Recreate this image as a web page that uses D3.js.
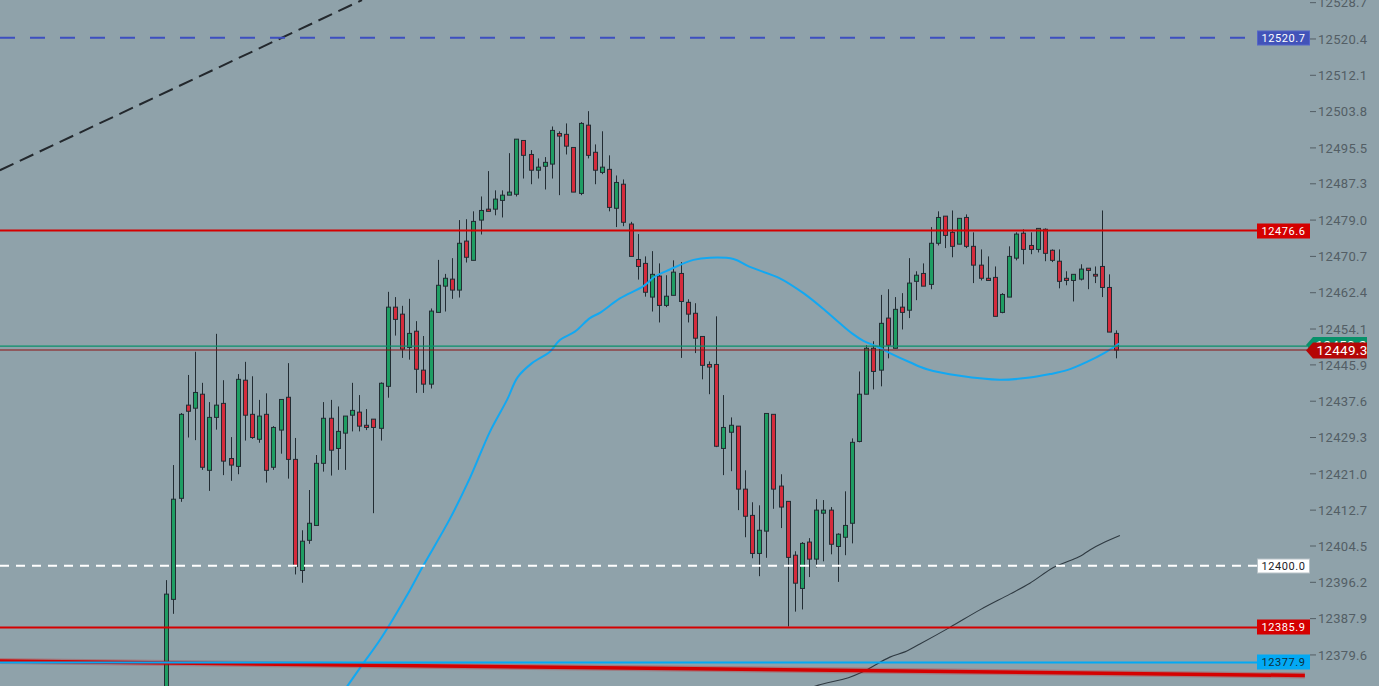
<!DOCTYPE html>
<html>
<head>
<meta charset="utf-8">
<script src="https://cdn.jsdelivr.net/npm/d3@7"></script>
<style>
  html, body { margin: 0; padding: 0; background: #8fa2aa; overflow: hidden; }
  svg { display: block; font-family: Roboto, "Noto Sans", sans-serif; }
  .tick-label { fill: #535e65; font-size: 13px; letter-spacing: 0.3px; }
  .box-label { font-size: 11px; letter-spacing: 0.6px; }
  .last-label { font-size: 13.5px; fill: #fff; letter-spacing: 0.3px; }
</style>
</head>
<body>
<div id="chart"></div>
<script>
// candle values, oldest first
const opens = [12369.3,12392.3,12415.4,12436.7,12436.0,12439.2,12421.8,12433.9,12437.1,12424.5,
  12422.7,12442.4,12434.6,12428.9,12434.6,12422.5,12431.0,12438.5,12424.3,12398.9,
  12405.8,12409.2,12423.4,12433.7,12426.8,12430.3,12434.4,12435.1,12432.1,12433.5,
  12431.4,12441.0,12459.1,12457.5,12449.9,12453.6,12444.7,12441.5,12457.9,12463.9,
  12465.5,12463.0,12474.2,12469.8,12479.0,12481.5,12481.5,12483.5,12484.7,12484.9,
  12497.2,12494.0,12490.4,12491.3,12491.8,12498.8,12498.6,12495.6,12485.1,12500.7,
  12494.5,12489.9,12490.6,12481.7,12487.2,12478.1,12470.0,12469.1,12461.4,12466.2,
  12459.5,12461.8,12466.8,12460.2,12457.7,12452.4,12446.0,12446.0,12426.8,12430.5,
  12431.9,12417.5,12411.5,12402.8,12407.9,12434.6,12418.2,12414.7,12402.4,12394.8,
  12405.4,12401.5,12412.0,12412.7,12404.4,12406.5,12409.7,12428.4,12439.2,12449.7,
  12444.7,12456.6,12449.7,12459.1,12458.4,12465.0,12466.8,12464.3,12473.7,12479.9,
  12476.2,12473.5,12479.6,12473.0,12468.7,12465.7,12465.9,12457.9,12461.4,12470.3,
  12476.0,12473.2,12472.3,12476.9,12472.1,12469.6,12465.7,12465.2,12465.5,12468.0,
  12466.6,12468.4,12463.6,12453.1];
const highs = [12396.7,12423.0,12434.9,12443.6,12448.9,12441.8,12437.4,12453.0,12442.4,12429.4,
  12443.8,12446.6,12443.3,12437.9,12439.4,12431.9,12438.0,12446.3,12429.2,12408.1,
  12417.3,12425.3,12437.4,12437.9,12436.4,12434.2,12441.8,12439.0,12435.8,12433.5,
  12441.9,12462.6,12461.4,12459.4,12461.0,12455.9,12452.5,12458.8,12469.9,12466.7,
  12470.3,12479.0,12479.2,12481.0,12484.4,12490.2,12485.8,12485.8,12494.3,12497.5,
  12497.2,12495.0,12493.1,12493.4,12500.4,12499.3,12501.1,12495.6,12501.4,12503.9,
  12496.3,12499.3,12493.8,12489.2,12488.3,12478.6,12475.8,12470.7,12471.9,12469.1,
  12466.4,12469.8,12469.4,12460.9,12460.0,12452.4,12446.7,12457.0,12439.0,12433.9,
  12431.9,12421.8,12414.5,12413.8,12434.8,12434.6,12420.9,12414.7,12403.3,12405.4,
  12406.3,12415.2,12415.0,12413.4,12407.4,12417.0,12429.1,12444.4,12450.4,12451.3,
  12461.9,12463.2,12461.4,12462.3,12470.3,12467.3,12469.1,12477.4,12481.0,12479.9,
  12481.2,12479.4,12480.3,12476.2,12472.3,12470.7,12468.4,12462.3,12473.0,12476.2,
  12476.9,12476.2,12477.1,12477.1,12472.3,12472.3,12467.3,12466.6,12468.9,12468.0,
  12468.4,12481.2,12466.6,12453.8];
const lows = [12367.0,12389.0,12414.6,12429.3,12428.7,12421.9,12417.1,12431.1,12420.7,12419.4,
  12420.9,12428.6,12429.0,12428.1,12419.0,12421.9,12425.6,12419.9,12398.0,12396.1,
  12405.0,12409.2,12421.5,12420.6,12421.9,12421.9,12430.7,12430.7,12431.0,12412.0,
  12428.6,12438.4,12452.6,12447.5,12447.1,12439.5,12439.5,12440.5,12457.9,12458.1,
  12461.0,12461.3,12469.3,12469.8,12475.7,12481.0,12480.1,12479.6,12484.7,12484.4,
  12488.5,12487.2,12488.5,12486.0,12488.5,12484.7,12494.0,12485.4,12484.7,12493.1,
  12487.2,12489.5,12481.0,12477.4,12477.6,12470.7,12465.4,12461.5,12458.1,12455.6,
  12459.1,12461.8,12447.5,12455.6,12448.6,12442.6,12439.2,12427.1,12420.7,12421.6,
  12412.7,12406.5,12401.7,12397.6,12401.8,12413.0,12408.6,12386.1,12389.5,12390.0,
  12397.4,12399.6,12401.0,12402.6,12396.3,12402.4,12405.1,12428.2,12439.2,12440.3,
  12441.0,12447.4,12449.7,12454.0,12456.6,12460.7,12463.9,12463.2,12473.2,12472.6,
  12470.5,12473.5,12472.6,12464.6,12465.2,12465.2,12457.0,12457.7,12461.4,12469.8,
  12468.9,12471.2,12471.6,12469.6,12469.4,12463.4,12464.1,12460.4,12465.2,12463.2,
  12464.6,12461.4,12453.4,12447.4];
const closes = [12393.5,12415.2,12434.6,12435.3,12439.6,12422.5,12433.9,12436.7,12423.9,12423.0,
  12442.6,12434.4,12429.3,12434.2,12421.8,12431.6,12438.0,12424.3,12399.8,12405.6,
  12409.7,12423.4,12433.7,12426.4,12430.7,12434.2,12435.5,12431.9,12431.6,12431.6,
  12441.7,12459.1,12456.3,12449.5,12453.1,12444.9,12441.5,12458.2,12464.1,12465.7,
  12463.0,12473.7,12470.5,12478.7,12481.2,12481.0,12483.8,12484.7,12485.4,12497.5,
  12493.8,12490.4,12491.1,12492.2,12499.5,12498.2,12495.9,12485.4,12501.1,12493.8,
  12490.4,12491.1,12481.9,12487.6,12478.5,12470.7,12468.4,12462.5,12466.6,12459.5,
  12461.6,12467.1,12460.4,12457.5,12452.0,12445.8,12445.4,12427.3,12431.6,12432.1,
  12417.5,12411.3,12402.8,12408.1,12434.8,12417.5,12413.4,12401.9,12396.0,12405.1,
  12401.5,12412.7,12412.7,12404.9,12407.2,12409.2,12428.2,12439.2,12449.7,12444.4,
  12455.4,12450.4,12458.6,12457.9,12464.6,12466.4,12463.9,12473.7,12479.6,12475.5,
  12473.0,12479.4,12473.0,12468.7,12465.7,12465.2,12457.0,12462.0,12470.7,12475.8,
  12472.3,12472.3,12477.1,12471.4,12469.8,12465.0,12465.2,12466.6,12467.8,12467.5,
  12466.2,12463.6,12453.4,12449.3];

// moving averages as [bar index, price] knots
const fastMa = [[24.0,12369.3],[27.1,12376.6],[29.9,12383.0],[34.1,12394.4],[35.9,12399.8],
  [39.7,12410.7],[42.5,12420.0],[45.3,12430.6],[47.7,12437.9],[49.2,12443.1],[51.2,12446.3],
  [53.7,12448.9],[55.1,12451.6],[57.2,12453.5],[59.3,12456.6],[60.7,12457.8],[63.5,12461.1],
  [66.8,12463.9],[68.4,12466.1],[70.5,12467.7],[73.8,12469.9],[76.1,12470.4],[79.4,12470.1],
  [81.7,12468.3],[85.9,12465.7],[89.2,12462.3],[92.2,12458.4],[94.3,12455.4],[96.0,12453.1],
  [97.6,12451.4],[99.5,12450.1],[101.3,12448.6],[104.1,12446.5],[106.5,12444.9],[111.1,12443.4],
  [116.7,12442.5],[120.9,12443.0],[123.7,12443.8],[126.1,12444.7],[128.9,12446.6],
  [131.3,12448.6],[133.4,12450.8]];
const slowMa = [[89.4,12371.6],[91.3,12372.7],[95.5,12374.4],[97.6,12375.8],[101.3,12379.1],
  [103.4,12380.3],[105.5,12382.1],[109.7,12385.9],[113.9,12389.9],[118.1,12393.5],
  [120.9,12396.0],[124.2,12399.6],[126.1,12400.9],[128.0,12402.2],[129.3,12403.6],
  [131.4,12405.4],[133.5,12406.9]];

// trend lines as [bar index, price] end points
const upTrend = [[-23.3, 12490.4], [27.4, 12529.3]];
const supportTrend = [[-23.3, 12378.2], [159.4, 12374.9]];

// horizontal levels
const levelPrices = [12520.7, 12476.6, 12400.0, 12385.9, 12377.9];
const levelLabels = ["12520.7", "12476.6", "12400.0", "12385.9", "12377.9"];
const bidPrice = 12450.2;
const bidLabel = "12450.2";
const lastLabel = "12449.3";

const tickLabels = ["12528.7","12520.4","12512.1","12503.8","12495.5","12487.3","12479.0",
  "12470.7","12462.4","12454.1","12445.9","12437.6","12429.3","12421.0","12412.7","12404.5",
  "12396.2","12387.9","12379.6"];

const levelStyles = [
  { stroke: "#3d4fc0", width: 2, dash: "15,15", bg: "#4253b9", text: "#ffffff", border: "#5566c8" },
  { stroke: "#d50000", width: 2, dash: null, bg: "#d50000", text: "#ffffff", border: "#d50000" },
  { stroke: "#ffffff", width: 2, dash: "9,7", bg: "#ffffff", text: "#1b2228", border: "#b8c2c7" },
  { stroke: "#d50000", width: 2, dash: null, bg: "#d50000", text: "#ffffff", border: "#d50000" },
  { stroke: "#03a9f4", width: 2, dash: null, bg: "#03a9f4", text: "#0d2f3d", border: "#03a9f4" }
];

const width = 1379;
const height = 686;
const plotRight = 1305;
const labelLeft = 1257;
const labelRight = 1310;

const x = d3.scaleLinear().domain([0, 133]).range([166.3, 1116.3]);
const y = d3.scaleLinear().domain([12372.5, 12529.31]).range([height, 0]);

const svg = d3.select("#chart").append("svg")
  .attr("width", width)
  .attr("height", height);

svg.append("rect")
  .attr("width", width)
  .attr("height", height)
  .attr("fill", "#8fa2aa");

svg.append("clipPath").attr("id", "plot-clip")
  .append("rect").attr("width", plotRight).attr("height", height);

const plot = svg.append("g").attr("clip-path", "url(#plot-clip)");

const candles = closes.map((c, i) => ({ i, o: opens[i], h: highs[i], l: lows[i], c }));

// wicks
plot.append("g").selectAll("line")
  .data(candles)
  .join("line")
  .attr("x1", d => Math.round(x(d.i)) + 0.5)
  .attr("x2", d => Math.round(x(d.i)) + 0.5)
  .attr("y1", d => y(d.h))
  .attr("y2", d => y(d.l))
  .attr("stroke", "#222c33")
  .attr("stroke-width", 1);

// bodies
plot.append("g").selectAll("rect")
  .data(candles)
  .join("rect")
  .attr("x", d => Math.round(x(d.i)) - 1.5)
  .attr("width", 4)
  .attr("y", d => y(Math.max(d.o, d.c)))
  .attr("height", d => Math.max(1, y(Math.min(d.o, d.c)) - y(Math.max(d.o, d.c))))
  .attr("fill", d => d.c >= d.o ? "#1f9d63" : "#d52b3c")
  .attr("stroke", "#222c33")
  .attr("stroke-width", 1);

const knotLine = d3.line()
  .x(d => x(d[0]))
  .y(d => y(d[1]))
  .curve(d3.curveCatmullRom);

plot.append("path")
  .datum(slowMa)
  .attr("d", knotLine)
  .attr("fill", "none")
  .attr("stroke", "#2f3a42")
  .attr("stroke-width", 1.1);

plot.append("path")
  .datum(fastMa)
  .attr("d", knotLine)
  .attr("fill", "none")
  .attr("stroke", "#12a8f2")
  .attr("stroke-width", 2);

const straight = d3.line().x(d => x(d[0])).y(d => y(d[1]));

plot.append("path")
  .datum(upTrend)
  .attr("d", straight)
  .attr("stroke", "#23282d")
  .attr("stroke-width", 2)
  .attr("stroke-dasharray", "15,7");

plot.append("path")
  .datum(supportTrend)
  .attr("d", straight)
  .attr("stroke", "#d50000")
  .attr("stroke-opacity", 0.25)
  .attr("stroke-width", 6);

plot.append("path")
  .datum(supportTrend)
  .attr("d", straight)
  .attr("stroke", "#d50000")
  .attr("stroke-width", 3.5);

// horizontal levels
levelPrices.forEach((p, k) => {
  const s = levelStyles[k];
  svg.append("line")
    .attr("x1", 0)
    .attr("x2", labelLeft)
    .attr("y1", y(p))
    .attr("y2", y(p))
    .attr("stroke", s.stroke)
    .attr("stroke-width", s.width)
    .attr("stroke-dasharray", s.dash);
});

// bid and last price lines
svg.append("line")
  .attr("x1", 0).attr("x2", 1307)
  .attr("y1", y(bidPrice)).attr("y2", y(bidPrice))
  .attr("stroke", "#08916a").attr("stroke-width", 1.3);

svg.append("line")
  .attr("x1", 0).attr("x2", 1307)
  .attr("y1", y(closes[closes.length - 1])).attr("y2", y(closes[closes.length - 1]))
  .attr("stroke", "#8e1010").attr("stroke-width", 1.1);

// price axis
const axis = svg.append("g");
tickLabels.forEach(t => {
  const ty = y(+t);
  axis.append("line")
    .attr("x1", 1310).attr("x2", 1316)
    .attr("y1", ty).attr("y2", ty)
    .attr("stroke", "#535e65").attr("stroke-width", 1);
  axis.append("text")
    .attr("class", "tick-label")
    .attr("x", 1318)
    .attr("y", ty)
    .attr("dy", "0.36em")
    .text(t);
});

// level boxes
levelPrices.forEach((p, k) => {
  const s = levelStyles[k];
  const cy = Math.round(y(p));
  svg.append("rect")
    .attr("x", labelLeft + 0.5)
    .attr("y", cy - 7)
    .attr("width", labelRight - labelLeft - 1)
    .attr("height", 14)
    .attr("fill", s.bg)
    .attr("stroke", s.border)
    .attr("stroke-width", 1);
  svg.append("text")
    .attr("class", "box-label")
    .attr("x", (labelLeft + labelRight) / 2)
    .attr("y", cy)
    .attr("dy", "0.36em")
    .attr("text-anchor", "middle")
    .attr("fill", s.text)
    .text(levelLabels[k]);
});

function pointerTag(cy, fill) {
  const x0 = 1306, x1 = 1313, x2 = 1367, hh = 8;
  return svg.append("path")
    .attr("d", `M${x0},${cy}L${x1},${cy - hh}L${x2},${cy - hh}L${x2},${cy + hh}L${x1},${cy + hh}Z`)
    .attr("fill", fill);
}

const bidY = y(bidPrice);
pointerTag(bidY - 1, "#08916a");
svg.append("text")
  .attr("class", "last-label")
  .attr("x", 1341).attr("y", bidY - 1).attr("dy", "0.36em")
  .attr("text-anchor", "middle")
  .text(bidLabel);

const lastY = y(closes[closes.length - 1]);
pointerTag(lastY + 0.5, "#b50606");
svg.append("text")
  .attr("class", "last-label")
  .attr("x", 1342).attr("y", lastY + 0.5).attr("dy", "0.36em")
  .attr("text-anchor", "middle")
  .text(lastLabel);
</script>
</body>
</html>
